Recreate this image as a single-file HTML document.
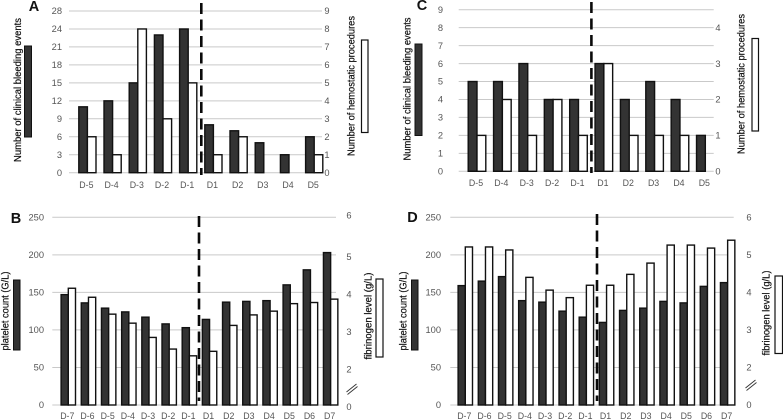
<!DOCTYPE html>
<html lang="en">
<head>
<meta charset="utf-8">
<title>Bleeding events, procedures, platelet count and fibrinogen level</title>
<style>
html,body{margin:0;padding:0;background:#fff;width:783px;height:420px;overflow:hidden}
svg{display:block;filter:blur(0.35px)}
text{font-family:"Liberation Sans",sans-serif}
</style>
</head>
<body>
<svg id="figure" xmlns="http://www.w3.org/2000/svg" width="783" height="420" viewBox="0 0 783 420"></svg>
<script>
const shortDays = ['D-5','D-4','D-3','D-2','D-1','D1','D2','D3','D4','D5'];
const longDays = ['D-7','D-6','D-5','D-4','D-3','D-2','D-1','D1','D2','D3','D4','D5','D6','D7'];

const aEvents = [11,12,15,23,24,8,7,5,3,6];
const aProcedures = [2,1,8,3,5,1,2,0,0,1];
const aLeftTicks = [0,3,6,9,12,15,18,21,24,27];
const aLeftLabels = ['0','3','6','9','12','15','18','21','24','28'];
const aRightTicks = [0,1,2,3,4,5,6,7,8,9];
const aRightLabels = ['0','1','2','3','4','5','6','7','8','9'];

const cEvents = [5,5,6,4,4,6,4,5,4,2];
const cProcedures = [1,2,1,2,1,3,1,1,1,0];
const cLeftTicks = [0,1,2,3,4,5,6,7,8,9];
const cLeftLabels = ['0','1','2','3','4','5','6','7','8','9'];
const cRightTicks = [0,1,2,3,4];
const cRightLabels = ['0','1','2','3','4'];

const bPlatelets = [147,136,129,124,117,108,103,114,137,138,139,160,180,203];
const bFibrinogen = [4.11,3.87,3.42,3.18,2.80,2.49,2.31,2.43,3.12,3.40,3.50,3.70,3.73,3.82];
const dPlatelets = [159,165,171,139,137,125,117,110,126,129,138,136,158,163];
const dFibrinogen = [5.21,5.21,5.13,4.40,4.06,3.86,4.19,4.19,4.48,4.78,5.26,5.26,5.18,5.39];
const plateletTicks = [0,50,100,150,200,250];
const plateletLabels = ['0','50','100','150','200','250'];
const fibrinogenTicks = [0,2,3,4,5,6];
const fibrinogenLabels = ['0','2','3','4','5','6'];

const NS = 'http://www.w3.org/2000/svg';
const root = document.getElementById('figure');

function make(tag, parent, props) {
  const el = document.createElementNS(NS, tag);
  for (const k in props) el.setAttribute(k, props[k]);
  parent.appendChild(el);
  return el;
}

function label(parent, str, x, y, size, color, anchor, weight) {
  const t = make('text', parent, {x: x, y: y, 'font-size': size, fill: color, 'text-anchor': anchor || 'middle', 'font-weight': weight || 'normal'});
  t.textContent = str;
  return t;
}

function rotatedTitle(parent, str, x, cy, len, size) {
  const t = make('text', parent, {
    x: 0, y: 0, 'font-size': size, fill: '#111', stroke: '#111', 'stroke-width': 0.2, 'text-anchor': 'middle',
    textLength: len, lengthAdjust: 'spacingAndGlyphs',
    transform: 'translate(' + x + ' ' + cy + ') rotate(-90)'
  });
  t.textContent = str;
  return t;
}

function drawPanel(p) {
  const g = make('g', root, {});
  
  

  const yLeft = v => p.base - (v / p.leftMax) * (p.base - p.top);
  const yRight = v => yLeft(p.rightToLeft(v));
  const xGroup = i => p.x0 + i * p.step;

  p.leftTicks.forEach((v, i) => {
    const line = make('line', g, {x1: p.gridL, x2: p.gridR, y1: yLeft(v), y2: yLeft(v), stroke: '#c9c9c9', 'stroke-width': 1});
    
    
    const t = label(g, p.leftLabels[i], p.leftX, yLeft(v) + 3.2, 9.3, '#555', 'end');
    
    
  });

  p.rightTicks.forEach((v, i) => {
    const t = label(g, p.rightLabels[i], p.rightX, yRight(v) + 3.2 + (p.rightNudge ? p.rightNudge(v) : 0), 9.3, '#555', 'middle');
    
    
  });

  p.categories.forEach((c, i) => {
    const cx = xGroup(i);
    if (p.leftSeries[i] > 0) {
      const y = yLeft(p.leftSeries[i]);
      const b = make('rect', g, {x: cx - p.barW, y: y, width: p.barW, height: p.base - y, fill: '#333', stroke: '#111', 'stroke-width': 1.4});
      
      
    }
    if (p.rightSeries[i] > 0) {
      const y = yRight(p.rightSeries[i]);
      const b = make('rect', g, {x: cx, y: y, width: p.barW, height: p.base - y, fill: '#fff', stroke: '#111', 'stroke-width': 1.4});
      
      
    }
    const t = label(g, c, cx - 1, p.catY, 8.8, '#555', 'middle');
    
    
  });

  const dash = make('line', g, {x1: p.dashX, x2: p.dashX, y1: p.dashTop, y2: p.dashBottom, stroke: '#0a0a0a', 'stroke-width': 2.6, 'stroke-dasharray': '11 5.5'});
  
  

  const letter = label(g, p.id, p.letterX, p.letterY, 14.5, '#111', 'middle', 'bold');
  
  

  const lt = rotatedTitle(g, p.leftTitle, p.leftTitleX, p.leftTitleY, p.leftTitleLen, 10);
  
  
  const rt = rotatedTitle(g, p.rightTitle, p.rightTitleX, p.rightTitleY, p.rightTitleLen, 10);
  
  

  const ll = make('rect', g, {x: p.leftKey[0], y: p.leftKey[1], width: p.leftKey[2], height: p.leftKey[3], fill: '#333', stroke: '#111', 'stroke-width': 1});
  
  
  const rl = make('rect', g, {x: p.rightKey[0], y: p.rightKey[1], width: p.rightKey[2], height: p.rightKey[3], fill: '#fff', stroke: '#111', 'stroke-width': 1.2});
  
  

  if (p.breakMark) {
    const [bx, by] = p.breakMark;
    const m1 = make('line', g, {x1: bx, y1: by + 8, x2: bx + 10, y2: by, stroke: '#333', 'stroke-width': 0.9});
    
    
    const m2 = make('line', g, {x1: bx + 1, y1: by + 10.5, x2: bx + 11, y2: by + 2.5, stroke: '#333', 'stroke-width': 0.9});
    
    
  }
}

const brokenFibrinogen = f => (f <= 2 ? f * 25 : (f - 1) * 50);
const fibrinogenNudge = f => (f === 6 ? -2 : 2);

drawPanel({
  id: 'A', categories: shortDays, leftSeries: aEvents, rightSeries: aProcedures,
  leftTicks: aLeftTicks, leftLabels: aLeftLabels, rightTicks: aRightTicks, rightLabels: aRightLabels,
  leftMax: 27, rightToLeft: v => v * 3, base: 172.7, top: 11, gridL: 69, gridR: 322,
  x0: 87.4, step: 25.2, barW: 8.6, catY: 188, leftX: 62, rightX: 327,
  dashX: 201.3, dashTop: 3, dashBottom: 175, letterX: 34, letterY: 11,
  leftTitle: 'Number of clinical bleeding events', leftTitleX: 21, leftTitleY: 90, leftTitleLen: 144,
  rightTitle: 'Number of hemostatic procedures', rightTitleX: 354.5, rightTitleY: 86, rightTitleLen: 140,
  leftKey: [24.5, 46, 7, 91], rightKey: [361.5, 40, 6.5, 92.5]
});
drawPanel({
  id: 'C', categories: shortDays, leftSeries: cEvents, rightSeries: cProcedures,
  leftTicks: cLeftTicks, leftLabels: cLeftLabels, rightTicks: cRightTicks, rightLabels: cRightLabels,
  leftMax: 9, rightToLeft: v => v * 2, base: 171.3, top: 9.7, gridL: 458.7, gridR: 713.7,
  x0: 477, step: 25.37, barW: 8.8, catY: 186, leftX: 443, rightX: 718,
  dashX: 591.4, dashTop: 2, dashBottom: 173, letterX: 422, letterY: 10,
  leftTitle: 'Number of clinical bleeding events', leftTitleX: 410.5, leftTitleY: 89, leftTitleLen: 143,
  rightTitle: 'Number of hemostatic procedures', rightTitleX: 744.5, rightTitleY: 84, rightTitleLen: 140,
  leftKey: [415, 44, 7, 91.5], rightKey: [752, 38.5, 6.5, 92.5]
});
drawPanel({
  id: 'B', categories: longDays, leftSeries: bPlatelets, rightSeries: bFibrinogen,
  leftTicks: plateletTicks, leftLabels: plateletLabels, rightTicks: fibrinogenTicks, rightLabels: fibrinogenLabels,
  leftMax: 250, rightToLeft: brokenFibrinogen, rightNudge: fibrinogenNudge, base: 405, top: 217.3, gridL: 52.3, gridR: 336,
  x0: 68.3, step: 20.18, barW: 7.2, catY: 419, leftX: 44, rightX: 349,
  dashX: 199, dashTop: 216, dashBottom: 401, letterX: 16, letterY: 223,
  leftTitle: 'platelet count (G/L)', leftTitleX: 8.5, leftTitleY: 311, leftTitleLen: 79,
  rightTitle: 'fibrinogen level (g/L)', rightTitleX: 371.5, rightTitleY: 316, rightTitleLen: 87,
  leftKey: [13.5, 280, 6.5, 70], rightKey: [376, 279, 7, 78], breakMark: [346.5, 384]
});
drawPanel({
  id: 'D', categories: longDays, leftSeries: dPlatelets, rightSeries: dFibrinogen,
  leftTicks: plateletTicks, leftLabels: plateletLabels, rightTicks: fibrinogenTicks, rightLabels: fibrinogenLabels,
  leftMax: 250, rightToLeft: brokenFibrinogen, base: 405, top: 217.3, gridL: 450.3, gridR: 733.7,
  x0: 465.3, step: 20.18, barW: 7.2, catY: 419, leftX: 441, rightX: 749,
  dashX: 597, dashTop: 214, dashBottom: 401, letterX: 412.5, letterY: 222,
  leftTitle: 'platelet count (G/L)', leftTitleX: 406.5, leftTitleY: 311, leftTitleLen: 79,
  rightTitle: 'fibrinogen level (g/L)', rightTitleX: 769.5, rightTitleY: 313, rightTitleLen: 85,
  leftKey: [411.5, 280, 6.5, 70], rightKey: [775, 276, 7.5, 77.5], breakMark: [745.5, 380]
});
</script>
</body>
</html>
